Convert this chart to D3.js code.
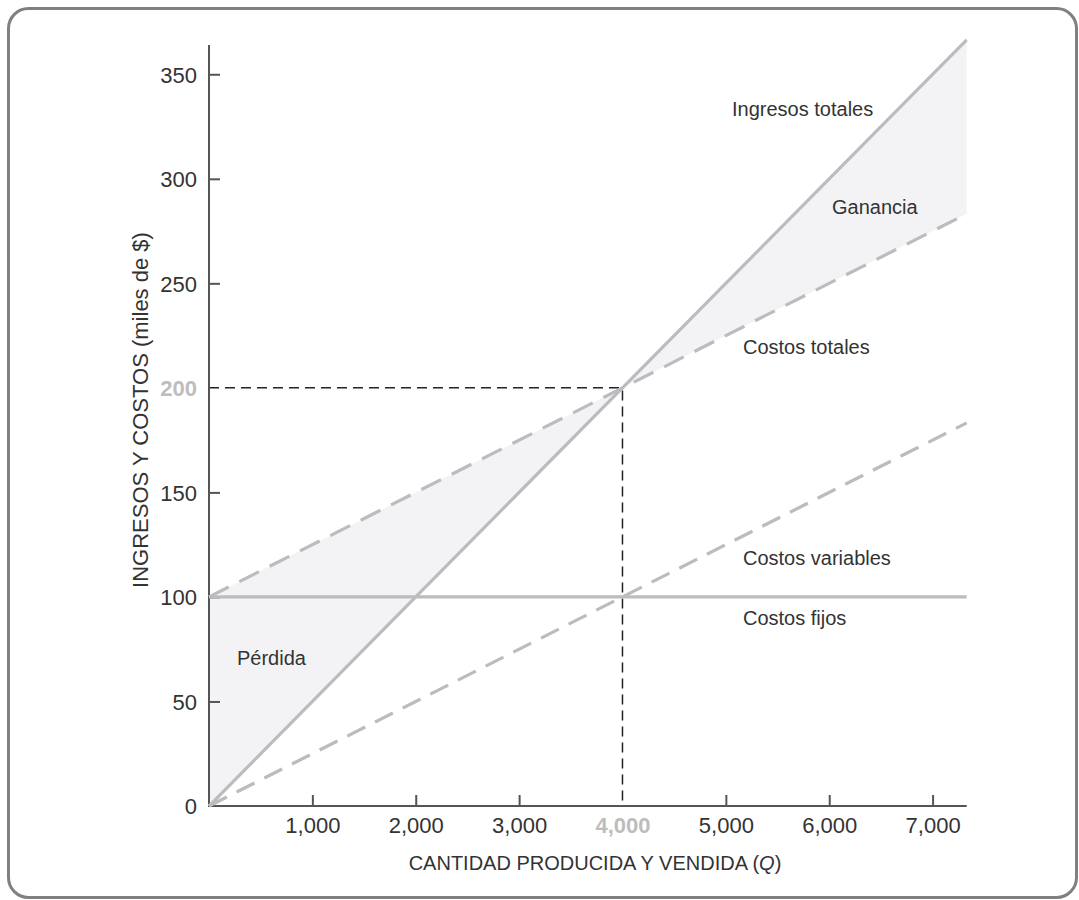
<!DOCTYPE html>
<html>
<head>
<meta charset="utf-8">
<script src="https://cdn.jsdelivr.net/npm/d3@7"></script>
<style>
  html, body { margin: 0; padding: 0; background: #fff; }
  svg { display: block; font-family: "Liberation Sans", Arial, sans-serif; }
</style>
</head>
<body>
<svg id="chart" width="1079" height="900"></svg>
<script>
// ---- data (thousands of $ vs units) ----
const quantities    = [0, 2000, 4000, 7330];
const revenue       = [0, 100, 200, 366.5];
const fixedCosts    = [100, 100, 100, 100];
const variableCosts = [0, 50, 100, 183.25];
const totalCosts    = [100, 150, 200, 283.25];
const breakEvenQ = 4000;
const breakEvenValue = 200;
const xTicks = [1000, 2000, 3000, 4000, 5000, 6000, 7000];
const yTicks = [0, 50, 100, 150, 200, 250, 300, 350];
const highlightX = [4000];
const highlightY = [200];
const seriesLabels = ["Ingresos totales", "Ganancia", "Costos totales", "Costos variables", "Costos fijos", "Pérdida"];

const svg = d3.select("#chart");
const textColor = "#333";
const lineColor = "#bcbcc0";
const fillColor = "#f3f3f5";
const axisColor = "#555";

// frame
svg.append("rect")
  .attr("x", 8.5).attr("y", 8.5).attr("width", 1068).attr("height", 889)
  .attr("rx", 20).attr("ry", 20)
  .attr("fill", "none").attr("stroke", "#808080").attr("stroke-width", 3);

const x = d3.scaleLinear().domain([0, 7330]).range([209, 966.7]);
const y = d3.scaleLinear().domain([0, 364]).range([806, 45]);

const rows = quantities.map((q, i) => ({
  q, rev: revenue[i], fc: fixedCosts[i], vc: variableCosts[i], tc: totalCosts[i]
}));

// shaded areas
const area = d3.area().x(d => x(d.q)).y0(d => y(d.rev)).y1(d => y(d.tc));
svg.append("path").datum(rows.filter(d => d.q <= breakEvenQ))
  .attr("d", area).attr("fill", fillColor);
svg.append("path").datum(rows.filter(d => d.q >= breakEvenQ))
  .attr("d", area).attr("fill", fillColor);

// break-even guides
svg.append("path")
  .attr("d", `M${x(0)},${y(breakEvenValue)}H${x(breakEvenQ)}V${y(0)}`)
  .attr("fill", "none").attr("stroke", "#222").attr("stroke-width", 1.5)
  .attr("stroke-dasharray", "10,6");

// axes
const xAxis = d3.axisBottom(x).tickValues(xTicks).tickSize(0).tickPadding(0)
  .tickFormat(d3.format(","));
const gx = svg.append("g").attr("transform", `translate(0,${y(0)})`).call(xAxis);
gx.select(".domain").remove();
svg.append("line").attr("x1", x(0)).attr("x2", 966.7).attr("y1", y(0)).attr("y2", y(0))
  .attr("stroke", axisColor).attr("stroke-width", 2);
gx.selectAll(".tick line").remove();
gx.selectAll(".tick").filter(d => !highlightX.includes(d)).append("line")
  .attr("y1", 0).attr("y2", -11).attr("stroke", axisColor).attr("stroke-width", 2);
gx.selectAll(".tick text")
  .attr("y", 27).attr("dy", 0)
  .attr("font-size", 22).attr("font-family", "Liberation Sans, Arial, sans-serif")
  .attr("fill", d => highlightX.includes(d) ? "#bdbdbd" : textColor)
  .attr("font-weight", d => highlightX.includes(d) ? "bold" : "normal");

const yAxis = d3.axisLeft(y).tickValues(yTicks).tickSize(0).tickPadding(0);
const gy = svg.append("g").attr("transform", `translate(${x(0)},0)`).call(yAxis);
gy.select(".domain").remove();
svg.append("line").attr("x1", x(0)).attr("x2", x(0)).attr("y1", 45).attr("y2", y(0) + 1)
  .attr("stroke", axisColor).attr("stroke-width", 2);
gy.selectAll(".tick").filter(d => !highlightY.includes(d) && d !== 0).append("line")
  .attr("x1", 0).attr("x2", 11).attr("stroke", axisColor).attr("stroke-width", 2);
gy.selectAll(".tick text")
  .attr("x", -12).attr("dy", "0.36em")
  .attr("font-size", 22).attr("font-family", "Liberation Sans, Arial, sans-serif")
  .attr("fill", d => highlightY.includes(d) ? "#bdbdbd" : textColor)
  .attr("font-weight", d => highlightY.includes(d) ? "bold" : "normal");

// lines
const mk = key => d3.line().x(d => x(d.q)).y(d => y(d[key]));
svg.append("path").datum(rows).attr("d", mk("vc"))
  .attr("fill", "none").attr("stroke", lineColor).attr("stroke-width", 3.2)
  .attr("stroke-dasharray", "20,11");
svg.append("path").datum(rows).attr("d", mk("tc"))
  .attr("fill", "none").attr("stroke", lineColor).attr("stroke-width", 3.2)
  .attr("stroke-dasharray", "22,12");
svg.append("path").datum(rows).attr("d", mk("fc"))
  .attr("fill", "none").attr("stroke", lineColor).attr("stroke-width", 3.2);
svg.append("path").datum(rows).attr("d", mk("rev"))
  .attr("fill", "none").attr("stroke", lineColor).attr("stroke-width", 3.2);

// annotations
const labelPos = [[732, 116], [832, 214], [743, 354], [743, 565], [743, 625], [237, 665]];
svg.selectAll("text.lbl").data(seriesLabels).enter().append("text")
  .attr("class", "lbl")
  .attr("x", (d, i) => labelPos[i][0]).attr("y", (d, i) => labelPos[i][1])
  .attr("font-size", 20).attr("fill", textColor).text(d => d);

// axis titles
const xt = svg.append("text").attr("x", 595).attr("y", 870).attr("text-anchor", "middle")
  .attr("font-size", 20).attr("fill", textColor);
xt.append("tspan").text("CANTIDAD PRODUCIDA Y VENDIDA (");
xt.append("tspan").attr("font-style", "italic").text("Q");
xt.append("tspan").text(")");

svg.append("text")
  .attr("transform", "translate(148,410) rotate(-90)")
  .attr("text-anchor", "middle").attr("font-size", 22).attr("fill", textColor)
  .text("INGRESOS Y COSTOS (miles de $)");
</script>
</body>
</html>
